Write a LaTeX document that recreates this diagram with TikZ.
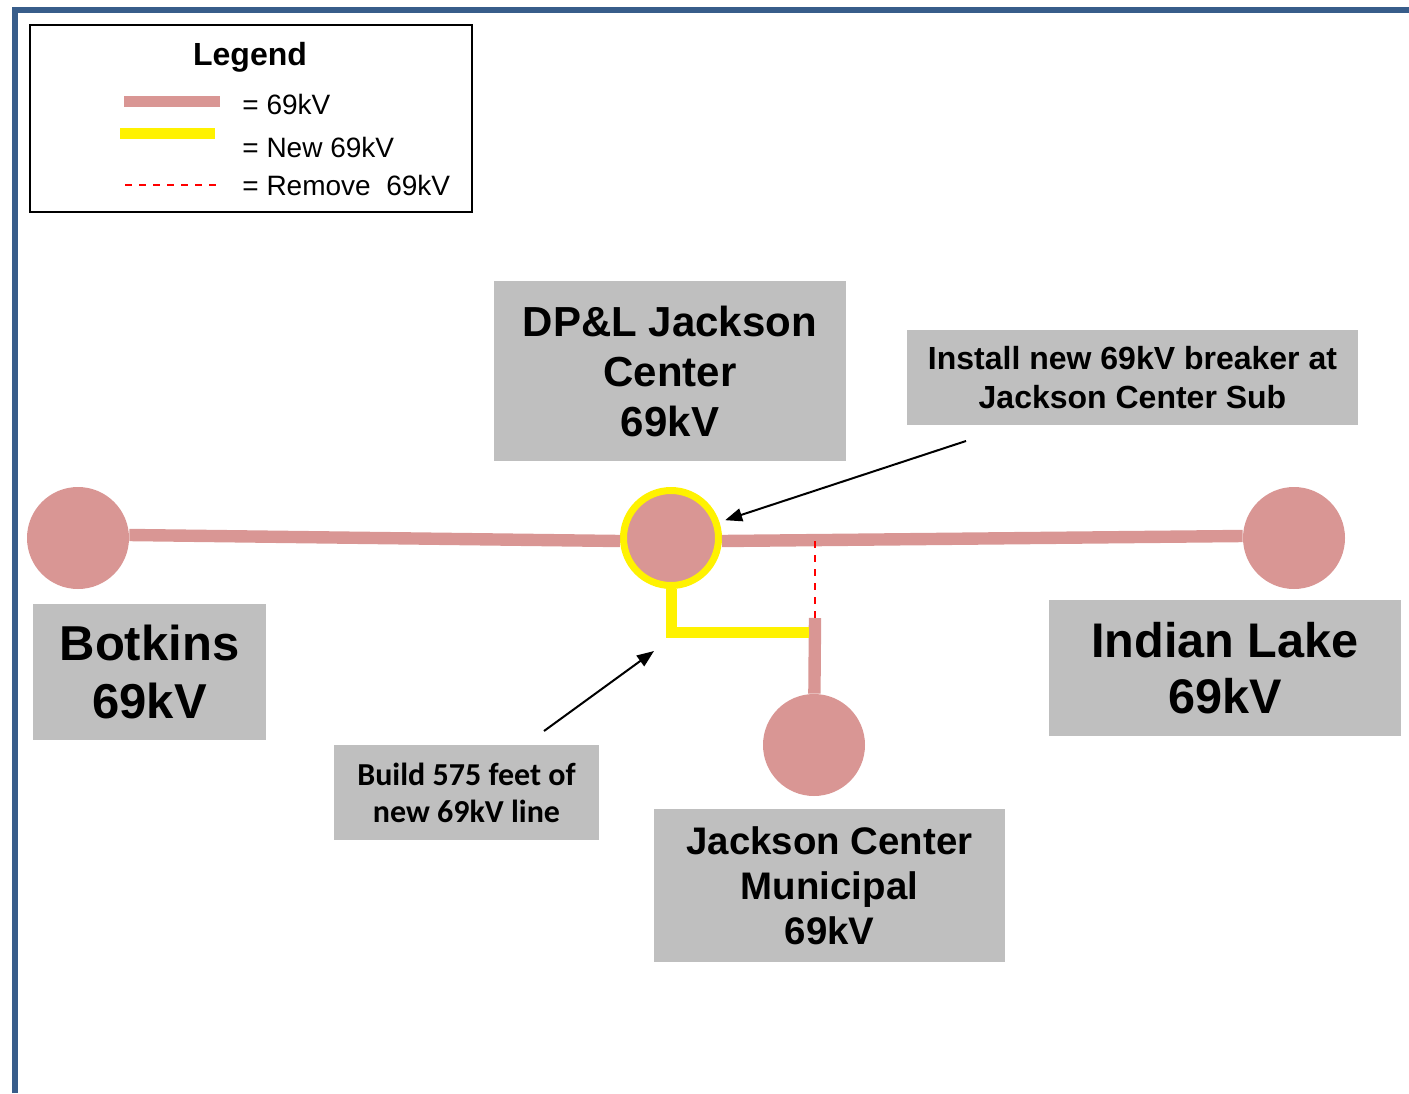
\documentclass[tikz,border=0pt]{standalone}
\usepackage{fontspec}
\setmainfont{Liberation Sans}
\newfontfamily\calibri{Carlito}
\usetikzlibrary{arrows.meta,positioning}

\definecolor{linepink}{HTML}{D99694}
\definecolor{boxgray}{HTML}{BFBFBF}
\definecolor{frameblue}{HTML}{385D8A}

\tikzset{
    bus/.style={circle, fill=linepink, minimum size=51pt, inner sep=0pt},
    line69/.style={draw=linepink, line width=6.2pt},
    newline/.style={draw=yellow, line width=5.5pt},
    removeline/.style={draw=red, line width=1pt, dash pattern=on 3.5pt off 3.5pt},
    namebox/.style={fill=boxgray, align=center, inner sep=0pt},
    pointer/.style={draw=black, line width=1pt, -{Triangle[length=8.5pt,width=6.5pt]}},
}

\begin{document}
\begin{tikzpicture}[x=0.5pt, y=-0.5pt]
            \useasboundingbox (0,0) rectangle (1409,1093);

            % frame
            \draw[frameblue, line width=3pt] (15,1093) -- (15,10) -- (1409,10);

            % legend
            \node[draw, line width=1pt, minimum width=221pt, minimum height=93.5pt, inner sep=0pt] (legend) at (251,118.5) {};
            \node[font=\fontsize{16}{19}\selectfont\bfseries] (legendtitle) at (250,57) {Legend};
            \draw[line69, line width=5.5pt] (124,101) -- (220,101);
            \draw[newline] (120,133) -- (215,133);
            \draw[removeline] (125,185) -- (223,185);
            \node[anchor=west, inner sep=0pt, font=\fontsize{14}{16}\selectfont] (key69) at (242,104) {= 69kV};
            \node[anchor=west, inner sep=0pt, font=\fontsize{14}{16}\selectfont] (keynew) at (242,147) {= New 69kV};
            \node[anchor=west, inner sep=0pt, font=\fontsize{14}{16}\selectfont] (keyremove) at (242,185) {= Remove\ \ 69kV};

            % substations
            \node[bus] (botkins) at (78,538) {};
            \node[bus, draw=yellow, line width=3.5pt, minimum size=47.5pt] (jc) at (671,538) {};
            \node[bus] (indian) at (1294,538) {};
            \node[bus] (muni) at (814,745) {};

            % tap points
            \coordinate (tee) at (815,541);
            \coordinate (stub) at (815,618);
            \coordinate (tap) at (809,632);

            % 69kV lines
            \draw[line69] ([yshift=1.5pt]botkins.east) -- ([yshift=-1.5pt]jc.west);
            \draw[line69] ([yshift=-1.5pt]jc.east) -- ([yshift=1pt]indian.west);
            \draw[line69] (muni) -- (stub);

            % removed and new sections
            \draw[removeline] (tee) -- (stub);
            \draw[newline] (jc.south) |- (tap);

            % name boxes
            \node[namebox, minimum width=176pt, minimum height=90pt, font=\fontsize{21}{25}\selectfont\bfseries] (jcname) at (670,371) {DP\&L Jackson\\Center\\69kV};
            \node[namebox, minimum width=116.5pt, minimum height=68pt, font=\fontsize{24.5}{29}\selectfont\bfseries] (botkinsname) at (149.5,672) {Botkins\\69kV};
            \node[namebox, minimum width=176pt, minimum height=68pt, font=\fontsize{24.3}{28}\selectfont\bfseries] (indianname) at (1225,668) {Indian Lake\\69kV};
            \node[namebox, minimum width=175.5pt, minimum height=76.5pt, font=\fontsize{19.2}{22.5}\selectfont\bfseries] (muniname) at (829.5,885.5) {Jackson Center\\Municipal\\69kV};

            % notes
            \node[namebox, minimum width=225.5pt, minimum height=47.5pt, font=\fontsize{16}{19.5}\selectfont\bfseries] (install) at (1132.5,377.5) {Install new 69kV breaker at\\Jackson Center Sub};
            \node[namebox, minimum width=132.5pt, minimum height=47.5pt, font=\calibri\fontsize{16}{18.5}\selectfont\bfseries] (build) at (466.5,792.5) {Build 575 feet of\\new 69kV line};

            % arrows
            \coordinate (installtail) at (966,441);
            \coordinate (buildtail) at (544,731);
            \coordinate (buildtip) at (654,651);
            \draw[pointer, shorten >=3pt] (installtail) -- (jc);
            \draw[pointer] (buildtail) -- (buildtip);

\end{tikzpicture}
\end{document}
